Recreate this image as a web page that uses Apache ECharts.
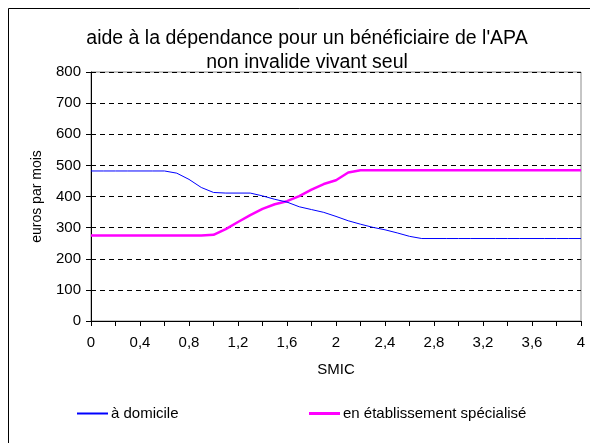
<!DOCTYPE html>
<html>
<head>
<meta charset="utf-8">
<script src="https://cdn.jsdelivr.net/npm/echarts@6/dist/echarts.min.js"></script>
<style>
  html, body { margin: 0; padding: 0; background: #fff; }
  #chart { width: 590px; height: 443px; }
</style>
</head>
<body>
<div id="chart"></div>
<script>
// revenu en SMIC (abscisse)
const smic = [0, 0.1, 0.2, 0.3, 0.4, 0.5, 0.6, 0.7, 0.8, 0.9,
              1.0, 1.1, 1.2, 1.3, 1.4, 1.5, 1.6, 1.7, 1.8, 1.9,
              2.0, 2.1, 2.2, 2.3, 2.4, 2.5, 2.6, 2.7, 2.8, 2.9,
              3.0, 3.1, 3.2, 3.3, 3.4, 3.5, 3.6, 3.7, 3.8, 3.9, 4.0];

// aide à domicile (euros par mois)
const domicile = [482, 482, 482, 482, 482, 482, 482, 475, 455, 429,
                  413, 411, 411, 411, 402, 391, 382, 367, 358, 349,
                  336, 322, 311, 301, 293, 283, 272, 265, 265, 265,
                  265, 265, 265, 265, 265, 265, 265, 265, 265, 265, 265];

// aide en établissement spécialisé (euros par mois)
const etablissement = [275, 275, 275, 275, 275, 275, 275, 275, 275, 275,
                       277, 295, 318, 340, 360, 375, 385, 401, 422, 440,
                       452, 477, 484, 484, 484, 484, 484, 484, 484, 484,
                       484, 484, 484, 484, 484, 484, 484, 484, 484, 484, 484];

const seriesNames = ['à domicile', 'en établissement spécialisé'];
const titleLines = ["aide à la dépendance pour un bénéficiaire de l'APA", 'non invalide vivant seul'];

const FONT = '"Liberation Sans", Arial, sans-serif';

const chart = echarts.init(document.getElementById('chart'));

// 0,4 -> "0,4" ; seuls les multiples de 0,4 sont affichés
function smicLabel(v) {
    const k = Math.round(v * 10);
    if (k % 4 !== 0) return '';
    return String(k / 10).replace('.', ',');
}

const option = {
    animation: false,
    backgroundColor: '#fff',
    textStyle: { fontFamily: FONT, color: '#000' },
    title: {
        text: titleLines.join('\n'),
        left: 302,
        top: 22,
        textAlign: 'center',
        textStyle: {
            fontFamily: FONT,
            fontSize: 19.5,
            fontWeight: 'normal',
            color: '#000',
            lineHeight: 24
        }
    },
    graphic: [{
        type: 'rect',
        shape: { x: 8.5, y: 8.5, width: 700, height: 500 },
        style: { fill: 'none', stroke: '#000', lineWidth: 1 },
        silent: true
    }],
    legend: [{
        data: [seriesNames[0]],
        left: 72,
        top: 401,
        icon: 'rect',
        itemWidth: 31,
        itemHeight: 2,
        itemGap: 4,
        textStyle: { fontFamily: FONT, fontSize: 15, color: '#000', padding: [0, 0, 0, -2] }
    }, {
        data: [seriesNames[1]],
        left: 304,
        top: 401,
        icon: 'rect',
        itemWidth: 31,
        itemHeight: 3,
        textStyle: { fontFamily: FONT, fontSize: 15, color: '#000', padding: [0, 0, 0, -2] }
    }],
    grid: {
        left: 91,
        right: 9,
        top: 72,
        bottom: 122,
        containLabel: false,
        show: true,
        borderColor: '#8c8c8c',
        borderWidth: 1
    },
    xAxis: {
        type: 'value',
        min: 0,
        max: 4,
        interval: 0.2,
        name: 'SMIC',
        nameLocation: 'middle',
        nameGap: 41,
        nameMoveOverlap: false,
        nameTextStyle: { fontFamily: FONT, fontSize: 15, color: '#000' },
        axisLine: { show: true, lineStyle: { color: '#000', width: 1 } },
        axisTick: { show: true, length: 5, lineStyle: { color: '#000' } },
        axisLabel: {
            margin: 14,
            fontFamily: FONT,
            fontSize: 15,
            color: '#000',
            showMinLabel: true,
            showMaxLabel: true,
            formatter: smicLabel
        },
        splitLine: { show: false }
    },
    yAxis: {
        type: 'value',
        min: 0,
        max: 800,
        interval: 100,
        name: 'euros par mois',
        nameLocation: 'middle',
        nameGap: 47,
        nameMoveOverlap: false,
        nameTextStyle: { fontFamily: FONT, fontSize: 14, color: '#000' },
        axisLine: { show: true, lineStyle: { color: '#000', width: 1 } },
        axisTick: { show: true, length: 5, lineStyle: { color: '#000' } },
        axisLabel: { margin: 10, fontFamily: FONT, fontSize: 15, color: '#000' },
        splitLine: { show: true, lineStyle: { color: '#000', type: [5, 4], width: 1 } }
    },
    series: [{
        name: seriesNames[0],
        type: 'line',
        data: smic.map((x, i) => [x, domicile[i]]),
        showSymbol: false,
        symbol: 'none',
        color: '#0000ff',
        lineStyle: { color: '#0000ff', width: 1 },
        z: 3
    }, {
        name: seriesNames[1],
        type: 'line',
        data: smic.map((x, i) => [x, etablissement[i]]),
        showSymbol: false,
        symbol: 'none',
        color: '#ff00ff',
        lineStyle: { color: '#ff00ff', width: 2.5 },
        z: 2
    }]
};

chart.setOption(option);
</script>
</body>
</html>
